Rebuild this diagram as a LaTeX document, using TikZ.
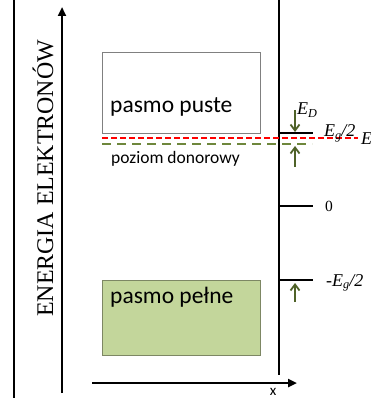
\documentclass[tikz,border=0pt]{standalone}
\usepackage{fontspec}
\setmainfont{Liberation Serif}
\newfontfamily\calib{Carlito}
\usetikzlibrary{arrows.meta}
\definecolor{boxgreen}{RGB}{195,214,155}
\definecolor{boxgreenedge}{RGB}{125,135,100}
\definecolor{olivearrow}{RGB}{79,98,40}
\definecolor{olivedash}{RGB}{110,135,60}
\definecolor{boxgray}{RGB}{128,128,128}
\newcommand{\lvlsub}[3]{{\fontsize{#1}{#1}\selectfont\itshape #2}\raisebox{-0.28em}{\fontsize{0.68\dimexpr #1pt\relax}{1pt}\selectfont\itshape #3}}
\tikzset{
  axisline/.style={line width=2.4pt},
  tickline/.style={line width=2.8pt},
  shiftarrow/.style={olivearrow, line width=1.8pt, -{Straight Barb[length=6pt,width=9pt,line width=1.8pt]}},
  axisarrow/.style={line width=2.4pt, -{Triangle[length=9pt,width=8pt]}},
  bandtext/.style={font=\calib\fontsize{23.5}{28}\selectfont, anchor=base west, inner sep=0pt},
  lvllabel/.style={anchor=base west, inner sep=0pt},
}
\begin{document}
\begin{tikzpicture}[x=1pt,y=-1pt]
\useasboundingbox (0,0) rectangle (370,398);
% frame line and energy axis
\coordinate (fl1) at (13.5,0); \coordinate (fl2) at (13.5,398);
\draw[line width=2pt] (fl1) -- (fl2);
\coordinate (ea1) at (62,393); \coordinate (ea2) at (62,7);
\draw[axisarrow] (ea1) -- (ea2);
\node[rotate=90, anchor=base west, inner sep=0pt, font=\fontsize{23.9}{28}\selectfont] (elabel) at (53,317) {ENERGIA ELEKTRONÓW};
% right vertical axis and x axis
\coordinate (ra1) at (279,0); \coordinate (ra2) at (279,375);
\draw[axisline] (ra1) -- (ra2);
\coordinate (xa1) at (92,383); \coordinate (xa2) at (297,383);
\draw[axisarrow] (xa1) -- (xa2);
\node[anchor=base, inner sep=0pt, font=\calib\fontsize{15}{18}\selectfont] (xlabel) at (273,395) {x};
% bands
\node[draw=boxgray, line width=1pt, minimum width=158pt, minimum height=81pt, anchor=north west, inner sep=0pt] (empty) at (102,52) {};
\node[bandtext] (emptytext) at (110,113) {pasmo puste};
\node[draw=boxgreenedge, fill=boxgreen, line width=1pt, minimum width=158pt, minimum height=75pt, anchor=north west, inner sep=0pt] (full) at (102,280) {};
\node[bandtext] (fulltext) at (110,303) {pasmo pełne};
% dashed levels
\coordinate (rd1) at (102,138); \coordinate (rd2) at (358,138);
\draw[red, line width=2pt, dash pattern=on 6pt off 3pt] (rd1) -- (rd2);
\coordinate (gd1) at (102,144.5); \coordinate (gd2) at (312,144.5);
\draw[olivedash, line width=2pt, dash pattern=on 9pt off 6pt] (gd1) -- (gd2);
\node[anchor=base west, inner sep=0pt, font=\calib\fontsize{17.5}{20}\selectfont] (donortext) at (111,164) {poziom donorowy};
% ticks
\coordinate (t1a) at (279,133); \coordinate (t1b) at (313,133);
\coordinate (t0a) at (279,206); \coordinate (t0b) at (313,206);
\coordinate (t2a) at (279,280); \coordinate (t2b) at (313,280);
\draw[tickline] (t1a) -- (t1b);
\draw[tickline] (t0a) -- (t0b);
\draw[tickline] (t2a) -- (t2b);
% labels
\node[lvllabel] (edlabel) at (297,115) {\lvlsub{18}{E}{D}};
\node[lvllabel] (eglabel) at (324,137) {\lvlsub{18}{E}{g}{\fontsize{18}{18}\selectfont\itshape /2}};
\node[lvllabel] (eflabel) at (361,145) {{\fontsize{18}{18}\selectfont\itshape E}};
\node[lvllabel, font=\fontsize{15.5}{18}\selectfont] (zerolabel) at (325,211) {0};
\node[lvllabel] (meglabel) at (326,286) {{\fontsize{18}{18}\selectfont\itshape -}\lvlsub{18}{E}{g}{\fontsize{18}{18}\selectfont\itshape /2}};
% green arrows
\coordinate (a1s) at (295,110); \coordinate (a1e) at (295,132);
\coordinate (a2s) at (295,167); \coordinate (a2e) at (295,146);
\coordinate (a3s) at (295,302); \coordinate (a3e) at (295,283);
\draw[shiftarrow] (a1s) -- (a1e);
\draw[shiftarrow] (a2s) -- (a2e);
\draw[shiftarrow] (a3s) -- (a3e);
\end{tikzpicture}
\end{document}
